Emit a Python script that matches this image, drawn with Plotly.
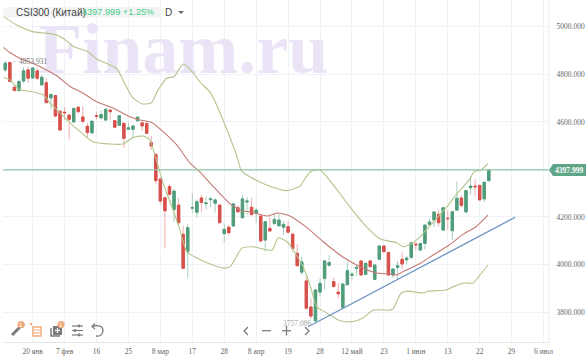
import plotly.graph_objects as go

W, H = 586, 360
L, R, T, B = 3, 549, 0, 342

open_ = [4819,4850,4746,4732,4772,4819,4785,4815,4756,4765,4701,4711,4645,4641,4629,4600,4662,4621,4582,4554,4626,4617,4608,4650,4605,4586,4594,4569,4569,4605,4596,4594,4513,4464,4360,4281,4328,4232,4250,4127,4054,4237,4220,4280,4256,4273,4258,4250,4130,4157,4162,4239,4197,4263,4241,4216,4204,4103,4152,4173,4163,4157,4159,4128,4047,3968,3931,3821,3763,3884,3942,3997,3928,3884,3820,3915,3955,3984,4015,3959,4015,3938,4022,4078,4051,3956,3988,4022,4020,4030,4086,4061,4089,4168,4187,4211,4145,4195,4142,4229,4280,4221,4323,4330,4333,4276,4353]
high = [4857,4854,4756,4777,4830,4833,4830,4826,4798,4784,4721,4713,4650,4662,4631,4662,4664,4667,4597,4605,4643,4647,4658,4653,4608,4629,4597,4597,4586,4622,4601,4597,4541,4465,4363,4281,4338,4317,4281,4162,4169,4302,4274,4293,4285,4286,4279,4252,4173,4166,4258,4250,4293,4283,4279,4237,4207,4183,4201,4216,4216,4183,4183,4131,4086,4033,3956,3858,3896,3942,4019,4039,3946,3921,3921,4012,3970,3998,4015,4008,4019,4001,4081,4082,4053,3984,4015,4051,4036,4095,4095,4092,4169,4194,4225,4229,4243,4229,4225,4349,4293,4314,4370,4359,4335,4349,4399]
low = [4810,4768,4730,4727,4763,4763,4780,4777,4752,4679,4653,4620,4563,4608,4527,4597,4636,4594,4531,4552,4611,4611,4605,4608,4575,4583,4492,4566,4531,4600,4563,4549,4482,4339,4253,4068,4288,4179,4173,3981,3943,4218,4197,4222,4232,4243,4218,4173,4092,4124,4159,4218,4192,4208,4208,4176,4092,4054,4138,4166,4159,4124,4131,4054,3994,3956,3811,3773,3757,3867,3896,3991,3904,3858,3816,3914,3932,3952,3952,3956,3988,3935,4019,4050,3952,3944,3939,3981,4002,4026,4061,4058,4064,4159,4159,4159,4142,4145,4103,4225,4241,4218,4293,4288,4268,4263,4349]
close = [4847,4770,4732,4770,4815,4784,4827,4784,4788,4681,4715,4625,4566,4638,4611,4656,4643,4603,4555,4603,4624,4631,4653,4643,4578,4626,4531,4575,4583,4620,4583,4552,4499,4353,4267,4226,4296,4309,4176,3984,4155,4240,4264,4261,4259,4276,4272,4176,4148,4134,4255,4222,4276,4267,4210,4229,4099,4180,4141,4190,4187,4169,4136,4068,3995,4011,3816,3783,3893,3921,4015,4008,3908,3877,3918,3974,3959,3988,3956,4005,3991,3998,4078,4054,3956,3981,3995,4002,4027,4092,4083,4088,4166,4179,4221,4176,4239,4193,4222,4279,4249,4311,4330,4327,4272,4346,4398]
candle_idx = list(range(len(close)))

upper_idx = [-0.4,2.5,6,8,10.5,12.5,15,18,20,22,24.5,26,28,30,32,33.5,35.5,37,39,41,42.7,45,47,48.6,50.7,51.8,53.7,57.3,61.7,64.6,66.8,69,71.9,74.9,78.4,82.2,85.8,87.2,88.5,90.7,92.9,96.6,98.8,101.7,102.8,104.3,105.8]
upper_val = [5043,5008,4980,4975,4970,4954,4917,4896,4865,4848,4823,4768,4701,4676,4680,4735,4785,4790,4844,4811,4768,4722,4642,4566,4461,4394,4368,4335,4311,4330,4389,4398,4335,4259,4175,4107,4092,4075,4082,4112,4159,4238,4293,4356,4391,4398,4424]
ma_idx = [-0.4,1,3.2,6,8.3,11.3,14.2,17,20,23.6,27.3,29.5,32.2,34.6,37.6,40.5,42.7,45.5,49.3,52,53.7,57.4,59.6,62.4,66.2,69.7,74,77.8,81.5,84.2,85.7,87.9,90.7,93.8,97.3,100.4,103.2,105.8]
ma_val = [4914,4892,4868,4847,4826,4794,4749,4722,4685,4659,4622,4608,4597,4559,4503,4427,4389,4330,4255,4225,4222,4204,4217,4204,4154,4096,4032,3991,3964,3960,3956,3977,4002,4040,4082,4128,4159,4208]
lower_idx = [-0.4,1,3.2,6,8.3,9.8,12,14.2,16.4,19.2,23,25.8,28,30.2,31.7,32.8,34.6,36.8,38.3,39.8,42,44.9,47.7,49.3,51.9,54.3,58.5,59.8,61.8,63.1,65.3,66.8,68.3,70.5,73.4,76,78.4,80.6,84.3,85,86.8,88.3,91.6,92.9,96.6,98.2,100.6,102.6,103.9,105.8]
lower_val = [4788,4777,4735,4727,4714,4680,4638,4596,4559,4517,4507,4507,4534,4541,4524,4461,4343,4229,4145,4054,4027,4002,3985,3991,4069,4075,4061,4112,4096,4061,3991,3914,3822,3796,3763,3759,3775,3808,3808,3813,3880,3888,3880,3888,3893,3907,3922,3922,3952,3998]
trend_idx = [66.4, 111.8]
trend_val = [3738, 4199]

x_tick_idx = [6,13,20,27,34,41,48,55,62,69,76,83,90,97,104,111,118]
x_tick_txt = ["20 янв","7 фев","16","25","8 мар","17","28","8 апр","19","28","12 май","23","1 июн","13","22","29","6 июл"]
y_tick_val = [3800,4000,4200,4400,4600,4800,5000]
y_tick_txt = ["3800.000","4000.000","4200.000","","4600.000","4800.000","5000.000"]
last_price = 4397.999
y_low = 3674
y_high = 5113

UP, DOWN = "#4f9d7b", "#d6504c"
UP_W, DOWN_W = "#a9cfbd", "#eeb0ae"
BAND, MA, TL = "#b3c58c", "#c47a74", "#6d93c4"
GRID = "#eff3f7"
FONT = "Liberation Serif"
SANS = "Liberation Sans"

fig = go.Figure()
# watermark, beneath every mark
fig.add_trace(go.Scatter(x=[39], y=[4883], mode="text", text=["<b>Finam.ru</b>"],
                         textposition="middle center",
                         textfont=dict(family=FONT, size=72, color="#ebe4f6"), hoverinfo="skip"))
fig.add_trace(go.Scatter(x=upper_idx, y=upper_val, mode="lines", line=dict(color=BAND, width=1.1, shape="spline", smoothing=0.6)))
fig.add_trace(go.Scatter(x=lower_idx, y=lower_val, mode="lines", line=dict(color=BAND, width=1.1, shape="spline", smoothing=0.6)))
fig.add_trace(go.Scatter(x=ma_idx, y=ma_val, mode="lines", line=dict(color=MA, width=1.1, shape="spline", smoothing=0.6)))
fig.add_trace(go.Scatter(x=trend_idx, y=trend_val, mode="lines", line=dict(color=TL, width=1.3)))
# wicks
fig.add_trace(go.Candlestick(x=candle_idx, open=open_, high=high, low=low, close=close, whiskerwidth=0,
    increasing=dict(line=dict(color=UP_W, width=1), fillcolor=UP_W),
    decreasing=dict(line=dict(color=DOWN_W, width=1), fillcolor=DOWN_W)))
# bodies
body_hi = [max(a, b) for a, b in zip(open_, close)]
body_lo = [min(a, b) for a, b in zip(open_, close)]
fig.add_trace(go.Candlestick(x=candle_idx, open=open_, high=body_hi, low=body_lo, close=close, whiskerwidth=0,
    increasing=dict(line=dict(color=UP, width=1), fillcolor=UP),
    decreasing=dict(line=dict(color=DOWN, width=1), fillcolor=DOWN)))

def px(x): return (x - L) / (R - L)
def py(y): return 1 - (y - T) / (B - T)

shapes = []
def pth(d, **k):
    shapes.append(dict(type="path", path=d, xref="paper", yref="paper", layer="above", **k))
def P(*pts, close=False):
    s = ""
    for i, (a, b) in enumerate(pts):
        s += ("M" if i == 0 else "L") + f"{px(a):.5f},{py(b):.5f} "
    return s + ("Z" if close else "")
def rect(x0, y0, x1, y1, fill, line=None, w=1):
    shapes.append(dict(type="rect", xref="paper", yref="paper", layer="above",
                       x0=px(x0), x1=px(x1), y0=py(y1), y1=py(y0),
                       fillcolor=fill, line=dict(color=line or "rgba(0,0,0,0)", width=w)))
def circ(x, y, r, fill):
    shapes.append(dict(type="circle", xref="paper", yref="paper", layer="above",
                       x0=px(x-r), x1=px(x+r), y0=py(y+r), y1=py(y-r),
                       fillcolor=fill, line=dict(width=0)))
def seg(*pts, color="#777777", w=1.5):
    pth(P(*pts), line=dict(color=color, width=w))

GR = "#7c7c7c"; OR = "#f2a878"
# price line, frame
shapes.append(dict(type="line", xref="paper", yref="y", x0=0, x1=1, y0=last_price, y1=last_price,
                   line=dict(color="#93c4ac", width=1.2), layer="above"))
shapes.append(dict(type="line", xref="paper", yref="paper", x0=1, x1=1, y0=0, y1=1, line=dict(color="#e7ebef", width=1)))
shapes.append(dict(type="line", xref="paper", yref="paper", x0=0, x1=1, y0=py(342.5), y1=py(342.5), line=dict(color="#e2e6ea", width=1)))
# price tag
pth(P((549,170),(553,164),(586,164),(586,176),(553,176), close=True), fillcolor="#5fa688", line=dict(width=0))
# title pill
rect(8, 7, 159, 17.5, "#f4f4f4")
circ(8, 12.2, 5.2, "#f4f4f4"); circ(159, 12.2, 5.2, "#f4f4f4")
pth(P((178,11),(184,11),(181,14), close=True), fillcolor="#666666", line=dict(width=0))
# toolbar: wrench
seg((12,335),(21,326), color=GR, w=3)
circ(21.5, 325, 3, GR)
circ(21, 324.5, 3.6, OR)
# list
rect(33, 327, 41, 336, "rgba(0,0,0,0)", OR, 1.4)
seg((34,330),(40,330), color=OR, w=1); seg((34,333),(40,333), color=OR, w=1)
pth(P((29,323),(32,323),(32,326), close=True), fillcolor=OR, line=dict(width=0))
# copy
rect(53, 326, 62, 335, GR)
seg((51,328),(51,336),(60,336), color=GR, w=1.5)
seg((55,330.5),(60,330.5), color="#ffffff", w=1.2); seg((57.5,328),(57.5,333), color="#ffffff", w=1.2)
circ(61, 324.5, 3.6, OR)
# sliders
for yy in (326, 330.5, 335):
    seg((72,yy),(83,yy), color=GR, w=1.2)
circ(79, 326, 1.4, GR); circ(75, 330.5, 1.4, GR); circ(79, 335, 1.4, GR)
# undo
pth(f"M{px(93):.5f},{py(326):.5f} Q{px(103):.5f},{py(324):.5f} {px(103):.5f},{py(331):.5f} Q{px(102):.5f},{py(337):.5f} {px(96):.5f},{py(336):.5f}",
    line=dict(color=GR, width=1.3))
seg((95,323.5),(92,326.5),(95,329), color=GR, w=1.3)
# nav
seg((248,327),(244,331),(248,335), color=GR, w=1.3)
seg((262,330.7),(271,330.7), color=GR, w=1.3)
seg((282,330.7),(291,330.7), color=GR, w=1.3); seg((286.5,326),(286.5,335.5), color=GR, w=1.3)
seg((305,327),(309,331),(305,335), color=GR, w=1.3)

ann = []
def txt(x, y, s, size, color, family=SANS, anchor="left"):
    ann.append(dict(xref="paper", yref="paper", x=px(x), y=py(y), text=s, showarrow=False,
                    xanchor=anchor, yanchor="middle", font=dict(family=family, size=size, color=color),
                    borderpad=0, borderwidth=0))
txt(16, 12.3, "CSI300 (Китай)", 10, "#444444")
txt(82, 12.3, "4397.999 +1.25%", 9.2, "#3fce8a")
txt(164.5, 12.3, "D", 10, "#444444")
txt(555, 170.3, "<b>4397.999</b>", 7.5, "#ffffff", FONT)
txt(21, 324.5, "1", 6, "#ffffff", anchor="center")
txt(61, 324.5, "1", 6, "#ffffff", anchor="center")
txt(12, 61, "←", 6, "#999999")
txt(19, 61.5, "4853.931", 7.5, "#777777", FONT)
txt(282.7, 323.5, "3757.086", 7.5, "#a8a8a8", FONT)
txt(308, 323.5, "→", 6, "#b5b5b5")

fig.update_layout(
    width=W, height=H, autosize=False, showlegend=False,
    paper_bgcolor="white", plot_bgcolor="white",
    margin=dict(l=L, r=W - R, t=T, b=H - B),
    shapes=shapes, annotations=ann, boxgap=0.25,
    xaxis=dict(range=[-0.5, 119.2], rangeslider=dict(visible=False), tickmode="array",
               tickvals=x_tick_idx, ticktext=x_tick_txt, showgrid=True, gridcolor=GRID, gridwidth=1,
               zeroline=False, showline=False, ticks="outside", ticklen=2, tickcolor="rgba(0,0,0,0)",
               tickangle=0, tickfont=dict(family=FONT, size=7.5, color="#666666")),
    yaxis=dict(range=[y_low, y_high], side="right", tickmode="array", tickvals=y_tick_val, ticktext=y_tick_txt,
               showgrid=True, gridcolor=GRID, gridwidth=1, zeroline=False, showline=False,
               ticks="outside", ticklen=5, tickcolor="rgba(0,0,0,0)",
               tickfont=dict(family=FONT, size=7.5, color="#666666")),
)
fig.write_html("out.html", config=dict(displayModeBar=False, staticPlot=True),
               post_script="document.body.style.margin='0';")
